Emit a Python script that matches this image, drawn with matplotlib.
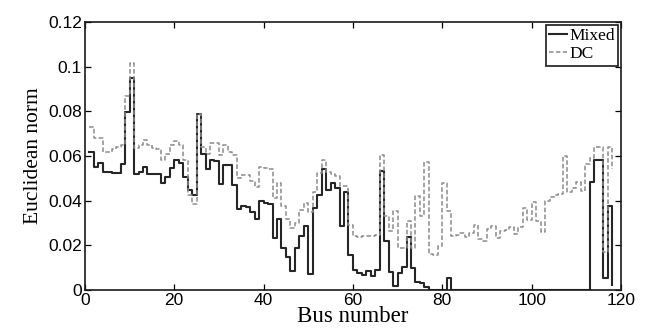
import numpy as np
import matplotlib
matplotlib.use('Agg')
import matplotlib.pyplot as plt

# Euclidean norm per bus (buses 1..118)
bus = np.arange(1, 119)

mixed = [
    0.062, 0.055, 0.057, 0.053, 0.053, 0.0525, 0.0525, 0.0565, 0.0795, 0.095,
    0.052, 0.053, 0.055, 0.052, 0.052, 0.052, 0.048, 0.0505, 0.0545, 0.058,
    0.057, 0.0505, 0.045, 0.0425, 0.079, 0.061, 0.054, 0.058, 0.0576, 0.0475,
    0.056, 0.056, 0.047, 0.0363, 0.0375, 0.037, 0.035, 0.032, 0.0397, 0.039,
    0.0385, 0.0233, 0.032, 0.019, 0.015, 0.0087, 0.019, 0.024, 0.0285, 0.007,
    0.0367, 0.0427, 0.054, 0.045, 0.048, 0.0457, 0.0288, 0.044, 0.0158, 0.0088,
    0.0078, 0.0068, 0.0085, 0.0062, 0.009, 0.0534, 0.022, 0.0082, 0.0017, 0.0077,
    0.0105, 0.0237, 0.0100, 0.0038, 0.003, 0.0015, 0, 0, 0, 0,
    0.0052, 0, 0, 0, 0, 0, 0, 0, 0, 0,
    0, 0, 0, 0, 0, 0, 0, 0, 0, 0,
    0, 0, 0, 0, 0, 0, 0, 0, 0, 0,
    0, 0, 0.0485, 0.058, 0.058, 0.0052, 0.0377, 0.0022,
]

dc = [
    0.073, 0.068, 0.068, 0.062, 0.062, 0.063, 0.064, 0.065, 0.0867, 0.1016,
    0.0636, 0.065, 0.067, 0.065, 0.0636, 0.063, 0.058, 0.061, 0.065, 0.0666,
    0.065, 0.058, 0.0427, 0.0385, 0.079, 0.064, 0.061, 0.066, 0.066, 0.0606,
    0.065, 0.062, 0.0606, 0.050, 0.0516, 0.0516, 0.049, 0.046, 0.055, 0.0546,
    0.054, 0.041, 0.048, 0.0375, 0.032, 0.0278, 0.030, 0.036, 0.039, 0.035,
    0.044, 0.0524, 0.0584, 0.0528, 0.052, 0.051, 0.0464, 0.0464, 0.0293, 0.024,
    0.0236, 0.024, 0.0243, 0.024, 0.0248, 0.0603, 0.033, 0.0263, 0.0352, 0.019,
    0.019, 0.031, 0.0188, 0.042, 0.033, 0.0573, 0.0161, 0.0158, 0.0196, 0.048,
    0.0355, 0.024, 0.0248, 0.0255, 0.0236, 0.0255, 0.0293, 0.023, 0.0221, 0.0275,
    0.0285, 0.0233, 0.0266, 0.027, 0.028, 0.025, 0.028, 0.0367, 0.0315, 0.0394,
    0.031, 0.026, 0.040, 0.0415, 0.0425, 0.043, 0.060, 0.044, 0.0455, 0.0485,
    0.0445, 0.0565, 0.059, 0.0642, 0.0642, 0.0172, 0.0642, 0.054,
]

xticks = [0, 20, 40, 60, 80, 100, 120]
yticks = [0, 0.02, 0.04, 0.06, 0.08, 0.1, 0.12]
ytick_labels = ['0', '0.02', '0.04', '0.06', '0.08', '0.1', '0.12']

serif = ['Liberation Serif', 'DejaVu Serif']
sans = ['Liberation Sans', 'DejaVu Sans']

fig = plt.figure(figsize=(6.53, 3.33), dpi=100)
ax = fig.add_axes([0.130, 0.129, 0.821, 0.805])

ax.step(bus, mixed, where='post', color='#262626', lw=1.5, label='Mixed')
ax.step(bus, dc, where='post', color='#8c8c8c', lw=1.1, ls=(0, (3, 1.5)), label='DC')

ax.set_xlim(0, 120)
ax.set_ylim(0, 0.12)
ax.set_xticks(xticks)
ax.set_yticks(yticks)
ax.set_yticklabels(ytick_labels)
ax.tick_params(direction='in', top=True, right=True, length=4, width=0.9,
               labelsize=12.5, pad=2)
for lab in ax.get_xticklabels() + ax.get_yticklabels():
    lab.set_family(sans)
for s in ax.spines.values():
    s.set_linewidth(1.2)
    s.set_color('#1a1a1a')

ax.set_xlabel('Bus number', family=serif, fontsize=16.5, labelpad=-1)
ax.set_ylabel('Euclidean norm', family=serif, fontsize=15.5, labelpad=4)

leg = ax.legend(loc='upper right', prop={'family': serif, 'size': 12.5},
                fancybox=False, framealpha=1, edgecolor='#1a1a1a',
                borderaxespad=0.15, handlelength=1.0, handletextpad=0.15,
                borderpad=0.2, labelspacing=0.1)
leg.get_frame().set_linewidth(1.2)

fig.savefig('out.png', dpi=100)
